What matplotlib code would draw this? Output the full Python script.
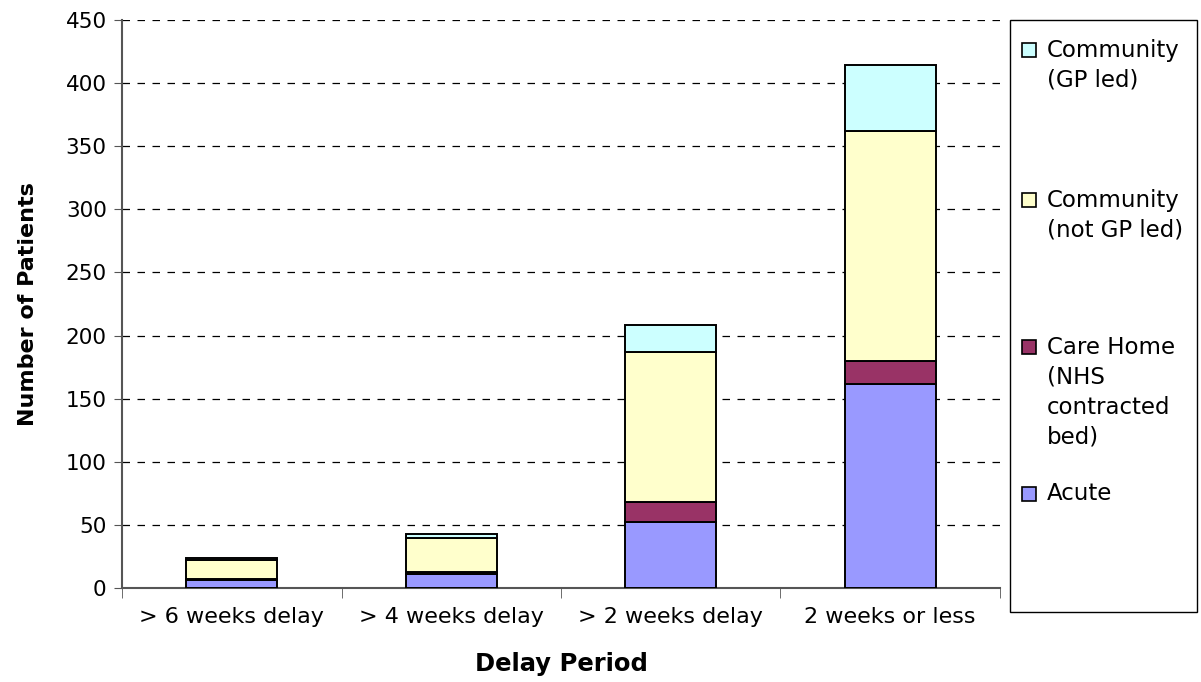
import matplotlib
matplotlib.use("Agg")
import matplotlib.pyplot as plt
from matplotlib.patches import Rectangle
import numpy as np

categories = ["> 6 weeks delay", "> 4 weeks delay", "> 2 weeks delay", "2 weeks or less"]
acute = [6, 11, 52, 162]
care_home = [1, 2, 16, 18]
community_not_gp = [15, 27, 119, 182]
community_gp = [2, 3, 21, 52]

series_labels = ["Acute", "Care Home\n(NHS\ncontracted\nbed)", "Community\n(not GP led)", "Community\n(GP led)"]
colors = ["#9999FF", "#993366", "#FFFFCC", "#CCFFFF"]
y_ticks = list(range(0, 451, 50))

plt.rcParams['font.family'] = ['DejaVu Sans']

fig = plt.figure(figsize=(12.01, 6.82), dpi=100)
W, H = 1201, 682
ax = fig.add_axes([122 / W, (H - 588) / H, (1000 - 122) / W, (588 - 20) / H])

x = np.arange(len(categories))
bottom = np.zeros(len(categories))
for vals, col in zip([acute, care_home, community_not_gp, community_gp], colors):
    ax.bar(x, vals, width=0.415, bottom=bottom, color=col, edgecolor="black", linewidth=1.4, zorder=3)
    bottom += np.array(vals)

ax.set_xlim(-0.5, 3.5)
ax.set_ylim(0, 450)
ax.set_yticks(y_ticks)
ax.tick_params(axis="y", labelsize=15.5, length=6, direction="out", color="#555555", pad=5)
ax.set_xticks(x)
ax.set_xticklabels(categories, fontsize=16)
ax.tick_params(axis="x", which="major", length=0, pad=14)
ax.set_xticks(np.arange(-0.5, 4.0, 1.0), minor=True)
ax.tick_params(axis="x", which="minor", length=7, direction="out", color="#555555")
ax.yaxis.grid(True, linestyle=(0, (6, 6)), color="black", linewidth=0.9, zorder=0)
for s in ["top", "right"]:
    ax.spines[s].set_visible(False)
for s in ["left", "bottom"]:
    ax.spines[s].set_color("#555555")
    ax.spines[s].set_linewidth(1.5)

ax.set_ylabel("Number of Patients", fontsize=16, fontweight="bold", labelpad=20)
ax.set_xlabel("Delay Period", fontsize=17.5, fontweight="bold", labelpad=18)

# Legend box (manual, Excel style)
lx0, lx1, ly0, ly1 = 1010, 1197, 20, 612
fig.patches.append(Rectangle((lx0 / W, 1 - ly1 / H), (lx1 - lx0) / W, (ly1 - ly0) / H,
                             transform=fig.transFigure, facecolor="white", edgecolor="black", linewidth=1.0))
entry_y = {3: 50, 2: 200, 1: 347, 0: 494}
line_gap = 30
for idx in [3, 2, 1, 0]:
    y0 = entry_y[idx]
    sz = 14
    fig.patches.append(Rectangle((1022 / W, 1 - (y0 + sz / 2) / H), sz / W, sz / H,
                                 transform=fig.transFigure, facecolor=colors[idx], edgecolor="black", linewidth=1.2))
    for k, line in enumerate(series_labels[idx].split("\n")):
        fig.text(1047 / W, 1 - (y0 + k * line_gap) / H, line, fontsize=16.5, va="center", ha="left")

fig.savefig("out.png", dpi=100)
